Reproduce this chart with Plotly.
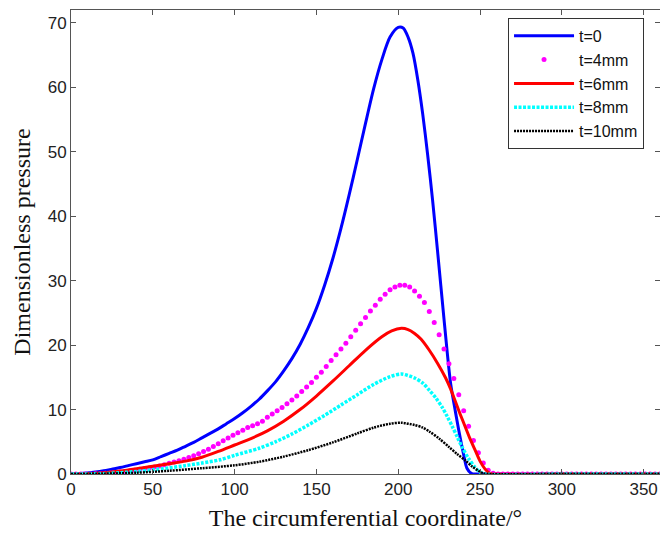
import plotly.graph_objects as go

# ---- data ----
x_t0 = [0, 5, 10, 15, 20, 25, 30, 35, 40, 45, 50, 55, 60, 65, 70, 75, 80, 85, 90, 95,
        100, 105, 110, 115, 120, 125, 130, 135, 140, 145, 150, 155, 160, 165, 170, 175,
        180, 185, 190, 195, 200, 203, 206, 209, 212, 215, 218, 221, 224, 228, 232, 235, 237,
        240, 242, 245, 248, 300, 360]
y_t0 = [0, 0.05, 0.15, 0.3, 0.5, 0.75, 1.0, 1.3, 1.6, 1.9, 2.2, 2.7, 3.2, 3.7, 4.3, 4.9, 5.6, 6.3, 7.0, 7.8,
        8.6, 9.5, 10.5, 11.6, 12.9, 14.3, 16.0, 17.9, 20.1, 22.7, 25.7, 29.3, 33.4, 38.1, 43.3, 48.8,
        54.4, 59.8, 64.3, 67.8, 69.3, 69.2, 67.8, 65.3, 61.1, 55.8, 49.5, 42.5, 34.7, 24.0, 14.1, 9.6, 6.8,
        3.0, 0.9, 0.05, 0, 0, 0]

x_t4 = [0, 3, 6, 9, 12, 15, 18, 21, 24, 27, 30, 33, 36, 39, 42, 45, 48, 51, 54, 57,
        60, 63, 66, 69, 72, 75, 78, 81, 84, 87, 90, 93, 96, 99, 102, 105, 108, 111, 114, 117,
        120, 123, 126, 129, 132, 135, 138, 141, 144, 147, 150, 153, 156, 159, 162, 165, 168, 171, 174, 177,
        180, 183, 186, 189, 192, 195, 198, 201, 204, 207, 210, 213, 216, 219, 222, 225, 228, 231, 234, 237,
        240, 243, 246, 249, 252, 255, 258, 261, 264, 267, 270, 273, 276, 279, 282, 285, 288, 291, 294, 297,
        300, 303, 306, 309, 312, 315, 318, 321, 324, 327, 330, 333, 336, 339, 342, 345, 348, 351, 354, 357, 360]
y_t4 = [0, 0, 0, 0, 0, 0.02, 0.05, 0.1, 0.15, 0.22, 0.3, 0.4, 0.5, 0.6, 0.72, 0.85, 0.98, 1.1, 1.25, 1.45,
        1.65, 1.85, 2.05, 2.3, 2.55, 2.85, 3.15, 3.5, 3.85, 4.25, 4.7, 5.15, 5.6, 6.0, 6.4, 6.8, 7.2, 7.5, 7.8, 8.2,
        8.8, 9.3, 9.8, 10.3, 10.9, 11.5, 12.1, 12.8, 13.5, 14.2, 15.0, 15.8, 16.7, 17.6, 18.5, 19.4, 20.3, 21.3, 22.3, 23.3,
        24.3, 25.3, 26.2, 27.1, 27.9, 28.6, 29.0, 29.3, 29.3, 29.0, 28.4, 27.6, 26.6, 25.2, 23.5, 21.6, 19.4, 17.1, 14.8, 12.3,
        9.8, 7.4, 5.2, 3.3, 1.7, 0.6, 0.1, 0, 0, 0, 0, 0, 0, 0, 0, 0, 0, 0, 0, 0,
        0, 0, 0, 0, 0, 0, 0, 0, 0, 0, 0, 0, 0, 0, 0, 0, 0, 0, 0, 0, 0]

x_t6 = [0, 10, 20, 30, 40, 50, 60, 70, 80, 90, 100, 110, 120, 130, 140, 150, 160, 170, 180, 190,
        196, 202, 206, 210, 214, 219, 224, 229, 232, 235, 238, 241, 244, 247, 250, 253, 256, 258, 300, 360]
y_t6 = [0, 0.05, 0.2, 0.45, 0.8, 1.2, 1.6, 2.0, 2.6, 3.5, 4.5, 5.5, 6.7, 8.2, 10.0, 12.1, 14.4, 16.8, 19.2, 21.3,
        22.2, 22.6, 22.4, 21.8, 20.9, 19.2, 17.2, 14.9, 13.2, 11.2, 9.2, 7.3, 5.4, 3.7, 2.0, 0.8, 0.1, 0, 0, 0]

x_t8 = [0, 20, 30, 40, 50, 60, 70, 80, 91, 100, 115, 125, 135, 145, 155, 165, 175, 185, 195, 202,
        210, 215, 219, 223, 227, 230, 233, 236, 239, 243, 247, 250, 253, 300, 360]
y_t8 = [0, 0.05, 0.2, 0.4, 0.65, 0.95, 1.3, 1.7, 2.2, 2.9, 4.0, 5.0, 6.2, 7.6, 9.1, 10.7, 12.3, 13.9, 15.1, 15.5,
        14.9, 14.1, 13.0, 11.8, 10.3, 8.9, 7.4, 5.8, 4.2, 2.4, 1.0, 0.3, 0, 0, 0]

x_t10 = [0, 20, 40, 60, 80, 100, 115, 130, 145, 160, 175, 185, 195, 202, 210, 215, 219, 225, 231, 236,
         241, 245, 249, 252, 254, 300, 360]
y_t10 = [0, 0.05, 0.2, 0.5, 0.9, 1.35, 1.9, 2.7, 3.7, 4.9, 6.3, 7.2, 7.8, 7.95, 7.6, 7.2, 6.6, 5.5, 4.2, 3.1,
         2.1, 1.2, 0.5, 0.1, 0, 0, 0]

names = ["t=0", "t=4mm", "t=6mm", "t=8mm", "t=10mm"]
x_ticks = [0, 50, 100, 150, 200, 250, 300, 350]
y_ticks = [0, 10, 20, 30, 40, 50, 60, 70]

fig = go.Figure()
fig.add_trace(go.Scatter(x=x_t0, y=y_t0, mode="lines", name=names[0],
                         line=dict(color="#0000FF", width=3, shape="spline", smoothing=0.8)))
fig.add_trace(go.Scatter(x=x_t4, y=y_t4, mode="markers", name=names[1],
                         marker=dict(color="#FF00FF", size=5, symbol="circle")))
fig.add_trace(go.Scatter(x=x_t6, y=y_t6, mode="lines", name=names[2],
                         line=dict(color="#FF0000", width=3, shape="spline", smoothing=0.8)))
fig.add_trace(go.Scatter(x=x_t8, y=y_t8, mode="lines", name=names[3],
                         line=dict(color="#00FFFF", width=3.5, dash="3px,1.5px", shape="spline", smoothing=0.8)))
fig.add_trace(go.Scatter(x=x_t10, y=y_t10, mode="lines", name=names[4],
                         line=dict(color="#000000", width=2.5, dash="2px,1px", shape="spline", smoothing=0.8)))

axis_common = dict(
    showgrid=False, zeroline=False, showline=True, linecolor="#555555", linewidth=1,
    mirror="allticks", ticks="inside", ticklen=5, tickcolor="#555555", tickwidth=1,
    tickfont=dict(family="Liberation Sans, Arial", size=17, color="#222222"),
)

fig.update_layout(
    width=660, height=544,
    margin=dict(l=71, r=0, t=10, b=70),
    paper_bgcolor="white", plot_bgcolor="white",
    xaxis=dict(range=[0, 360], tickvals=x_ticks, **axis_common,
               title=dict(text="The circumferential coordinate/°", standoff=10,
                          font=dict(family="Liberation Serif, Times New Roman", size=24, color="#111111"))),
    yaxis=dict(range=[0, 72], tickvals=y_ticks, **axis_common,
               title=dict(text="Dimensionless pressure", standoff=10,
                          font=dict(family="Liberation Serif, Times New Roman", size=24, color="#111111"))),
    legend=dict(x=0.742, y=0.983, xanchor="left", yanchor="top",
                bgcolor="white", bordercolor="#333333", borderwidth=1,
                font=dict(family="Liberation Sans, Arial", size=16, color="#111111"),
                itemwidth=60, tracegroupgap=0),
    showlegend=True,
)

fig.write_html("out.html")
